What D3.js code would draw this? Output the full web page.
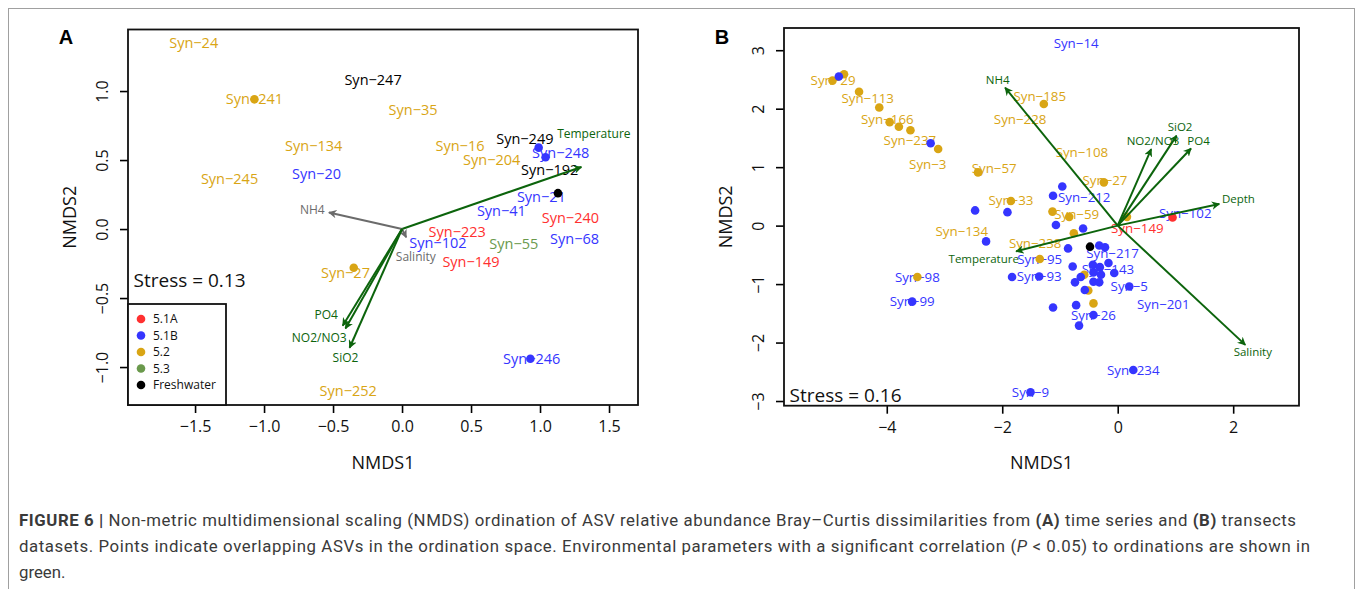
<!DOCTYPE html>
<html>
<head>
<meta charset="utf-8">
<script src="https://cdn.jsdelivr.net/npm/d3@7"></script>
<style>
  body { margin: 0; background: #fff; }
  text { font-family: "Open Sans", sans-serif; }
</style>
</head>
<body>
<svg id="fig" width="1357" height="589"></svg>
<script>
  // group names and their colours
  const groups = ["5.1A", "5.1B", "5.2", "5.3", "Freshwater"];
  const groupColors = ["#ff3030", "#3535ff", "#d9a514", "#6a994c", "#000000"];

  // panel A (time series) : label, NMDS1, NMDS2, group
  const labelsA = [
    ["Syn−24", -1.51, 1.35, "5.2"],
    ["Syn−247", -0.21, 1.08, "Freshwater"],
    ["Syn−241", -1.07, 0.94, "5.2"],
    ["Syn−35", 0.08, 0.86, "5.2"],
    ["Syn−134", -0.64, 0.60, "5.2"],
    ["Syn−16", 0.42, 0.60, "5.2"],
    ["Syn−249", 0.89, 0.65, "Freshwater"],
    ["Syn−204", 0.65, 0.50, "5.2"],
    ["Syn−248", 1.15, 0.55, "5.1B"],
    ["Syn−20", -0.62, 0.40, "5.1B"],
    ["Syn−245", -1.25, 0.36, "5.2"],
    ["Syn−192", 1.07, 0.43, "Freshwater"],
    ["Syn−21", 1.01, 0.23, "5.1B"],
    ["Syn−41", 0.72, 0.13, "5.1B"],
    ["Syn−240", 1.22, 0.08, "5.1A"],
    ["Syn−223", 0.40, -0.02, "5.1A"],
    ["Syn−55", 0.81, -0.11, "5.3"],
    ["Syn−68", 1.25, -0.07, "5.1B"],
    ["Syn−102", 0.26, -0.10, "5.1B"],
    ["Syn−149", 0.50, -0.24, "5.1A"],
    ["Syn−27", -0.41, -0.32, "5.2"],
    ["Syn−246", 0.94, -0.94, "5.1B"],
    ["Syn−252", -0.39, -1.17, "5.2"]
  ];
  // overlapping ASVs drawn as dots : NMDS1, NMDS2, group
  const pointsA = [
    [-1.07, 0.94, "5.2"],
    [0.99, 0.59, "5.1B"],
    [1.04, 0.52, "5.1B"],
    [1.13, 0.26, "Freshwater"],
    [-0.35, -0.28, "5.2"],
    [0.93, -0.94, "5.1B"]
  ];
  // fitted environmental vectors : name, tip x, tip y, label x, label y
  const arrowsA = [
    ["Temperature", 1.30, 0.45, 1.39, 0.69],
    ["NH4", -0.53, 0.12, -0.65, 0.14],
    ["Salinity", 0.03, -0.06, 0.10, -0.20],
    ["PO4", -0.43, -0.70, -0.55, -0.62],
    ["NO2/NO3", -0.41, -0.72, -0.60, -0.79],
    ["SiO2", -0.38, -0.86, -0.41, -0.93]
  ];
  const significantA = ["Temperature", "PO4", "NO2/NO3", "SiO2"];

  // panel B (transects)
  const labelsB = [
    ["Syn−14", -0.72, 3.12, "5.1B"],
    ["Syn−29", -4.93, 2.49, "5.2"],
    ["Syn−113", -4.33, 2.17, "5.2"],
    ["Syn−166", -3.99, 1.81, "5.2"],
    ["Syn−237", -3.60, 1.45, "5.2"],
    ["Syn−3", -3.29, 1.05, "5.2"],
    ["Syn−185", -1.35, 2.21, "5.2"],
    ["Syn−228", -1.69, 1.82, "5.2"],
    ["Syn−108", -0.62, 1.25, "5.2"],
    ["Syn−57", -2.14, 0.98, "5.2"],
    ["Syn−27", -0.22, 0.77, "5.2"],
    ["Syn−33", -1.85, 0.43, "5.2"],
    ["Syn−212", -0.58, 0.48, "5.1B"],
    ["Syn−59", -0.71, 0.19, "5.2"],
    ["Syn−134", -2.70, -0.09, "5.2"],
    ["Syn−238", -1.43, -0.30, "5.2"],
    ["Syn−102", 1.17, 0.21, "5.1B"],
    ["Syn−149", 0.34, -0.04, "5.1A"],
    ["Syn−217", -0.09, -0.47, "5.1B"],
    ["Syn−95", -1.35, -0.57, "5.1B"],
    ["Syn−93", -1.36, -0.87, "5.1B"],
    ["Syn−143", -0.17, -0.74, "5.1B"],
    ["Syn−98", -3.47, -0.88, "5.1B"],
    ["Syn−99", -3.56, -1.30, "5.1B"],
    ["Syn−5", 0.20, -1.04, "5.1B"],
    ["Syn−201", 0.79, -1.34, "5.1B"],
    ["Syn−26", -0.42, -1.53, "5.1B"],
    ["Syn−234", 0.27, -2.47, "5.1B"],
    ["Syn−9", -1.51, -2.85, "5.1B"]
  ];
  const pointsB = [
    [-4.94, 2.48, "5.2"], [-4.74, 2.59, "5.2"], [-4.48, 2.29, "5.2"], [-4.13, 2.02, "5.2"],
    [-3.95, 1.77, "5.2"], [-3.79, 1.69, "5.2"], [-3.59, 1.63, "5.2"], [-3.11, 1.31, "5.2"],
    [-1.28, 2.08, "5.2"], [-2.42, 0.91, "5.2"], [-1.85, 0.42, "5.2"], [-0.24, 0.74, "5.2"],
    [-1.13, 0.24, "5.2"], [-0.84, 0.15, "5.2"], [-0.76, -0.13, "5.2"], [0.16, 0.15, "5.2"],
    [-3.47, -0.88, "5.2"], [-1.35, -0.57, "5.2"], [-0.58, -0.84, "5.2"], [-0.51, -1.11, "5.2"],
    [-0.42, -1.33, "5.2"],
    [-4.83, 2.55, "5.1B"], [-3.24, 1.41, "5.1B"], [-2.47, 0.26, "5.1B"], [-1.91, 0.23, "5.1B"],
    [-0.96, 0.67, "5.1B"], [-1.12, 0.51, "5.1B"], [-1.07, 0.01, "5.1B"], [-0.60, -0.05, "5.1B"],
    [-2.28, -0.27, "5.1B"], [-0.86, -0.39, "5.1B"], [-0.32, -0.34, "5.1B"], [-0.22, -0.37, "5.1B"],
    [-3.56, -1.30, "5.1B"], [-1.36, -0.87, "5.1B"], [-1.83, -0.88, "5.1B"], [-0.78, -0.70, "5.1B"],
    [-0.64, -0.88, "5.1B"], [-0.74, -0.97, "5.1B"], [-0.57, -1.10, "5.1B"], [-1.12, -1.40, "5.1B"],
    [-0.72, -1.36, "5.1B"], [-0.42, -1.53, "5.1B"], [-0.67, -1.71, "5.1B"], [-0.16, -0.64, "5.1B"],
    [-0.43, -0.67, "5.1B"], [-0.31, -0.71, "5.1B"], [-0.06, -0.81, "5.1B"], [-0.42, -0.80, "5.1B"],
    [-0.29, -0.84, "5.1B"], [-0.42, -0.96, "5.1B"], [-0.32, -0.97, "5.1B"], [0.20, -1.04, "5.1B"],
    [0.27, -2.47, "5.1B"], [-1.51, -2.85, "5.1B"],
    [0.95, 0.14, "5.1A"],
    [-0.48, -0.36, "Freshwater"]
  ];
  const arrowsB = [
    ["NH4", -1.95, 2.36, -2.08, 2.49],
    ["NO2/NO3", 0.58, 1.31, 0.61, 1.45],
    ["SiO2", 1.02, 1.54, 1.08, 1.68],
    ["PO4", 1.27, 1.32, 1.40, 1.45],
    ["Depth", 1.76, 0.37, 2.09, 0.46],
    ["Temperature", -1.76, -0.44, -2.32, -0.57],
    ["Salinity", 2.21, -2.04, 2.34, -2.16]
  ];

  const ticksAx = [-1.5, -1.0, -0.5, 0.0, 0.5, 1.0, 1.5];
  const ticksAy = [-1.0, -0.5, 0.0, 0.5, 1.0];
  const ticksBx = [-4, -2, 0, 2];
  const ticksBy = [-3, -2, -1, 0, 1, 2, 3];

  const captionLines = [
    [["FIGURE 6 | ", "b"], ["Non-metric multidimensional scaling (NMDS) ordination of ASV relative abundance Bray–Curtis dissimilarities from ", ""], ["(A)", "b"], [" time series and ", ""], ["(B)", "b"], [" transects", ""]],
    [["datasets. Points indicate overlapping ASVs in the ordination space. Environmental parameters with a significant correlation (", ""], ["P", "i"], [" < 0.05) to ordinations are shown in", ""]],
    [["green.", ""]]
  ];

  const color = d3.scaleOrdinal().domain(groups).range(groupColors);
  const arrowGreen = "#0c640c";
  const arrowGrey = "#6b6b6b";

  const svg = d3.select("#fig");

  svg.append("rect")
    .attr("x", 8.5).attr("y", 8.5)
    .attr("width", 1346).attr("height", 600)
    .attr("fill", "none").attr("stroke", "#a0a0a0").attr("stroke-width", 1);

  // arrow heads
  const defs = svg.append("defs");
  [["headGreen", arrowGreen], ["headGrey", arrowGrey]].forEach(function(h) {
    defs.append("marker")
      .attr("id", h[0])
      .attr("viewBox", "0 0 10 10")
      .attr("refX", 9).attr("refY", 5)
      .attr("markerWidth", 4.2).attr("markerHeight", 4.2)
      .attr("markerUnits", "strokeWidth")
      .attr("orient", "auto")
      .append("path")
      .attr("d", "M0,0 L10,5 L0,10 L3,5 Z")
      .attr("fill", h[1]);
  });

  function drawPanel(opt) {
    const x = d3.scaleLinear().domain(opt.xDomain).range([opt.left, opt.right]);
    const y = d3.scaleLinear().domain(opt.yDomain).range([opt.bottom, opt.top]);
    const g = svg.append("g");

    // x axis
    const xAxis = g.append("g")
      .attr("transform", `translate(0,${opt.bottom})`)
      .call(d3.axisBottom(x).tickValues(opt.xTicks).tickFormat(opt.fmt).tickSize(8));
    xAxis.select(".domain").remove();
    xAxis.selectAll("line").attr("stroke", "#000").attr("stroke-width", 1.6);
    xAxis.selectAll("text")
      .attr("y", 27).attr("dy", 0)
      .attr("font-size", 16).attr("fill", "#111")
      .style("font-family", "'Open Sans', sans-serif");

    // y axis, labels parallel to the axis like base R
    const yAxis = g.append("g")
      .attr("transform", `translate(${opt.left},0)`)
      .call(d3.axisLeft(y).tickValues(opt.yTicks).tickFormat(opt.fmt).tickSize(8));
    yAxis.select(".domain").remove();
    yAxis.selectAll("line").attr("stroke", "#000").attr("stroke-width", 1.6);
    yAxis.selectAll("text")
      .attr("transform", "rotate(-90)")
      .attr("x", 0).attr("y", -20).attr("dy", 0)
      .attr("text-anchor", "middle")
      .attr("font-size", 16).attr("fill", "#111")
      .style("font-family", "'Open Sans', sans-serif");

    // axis titles
    g.append("text")
      .attr("x", (opt.left + opt.right) / 2).attr("y", 469)
      .attr("text-anchor", "middle").attr("font-size", 18).attr("fill", "#111")
      .text("NMDS1");
    g.append("text")
      .attr("transform", `translate(${opt.left - 52},${(opt.top + opt.bottom) / 2}) rotate(-90)`)
      .attr("text-anchor", "middle").attr("font-size", 18).attr("fill", "#111")
      .text("NMDS2");

    // panel letter
    g.append("text")
      .attr("x", opt.letterX).attr("y", 44)
      .attr("text-anchor", "middle").attr("font-size", 20).attr("font-weight", "bold")
      .style("font-family", "'Liberation Sans', Arial, sans-serif")
      .text(opt.letter);

    // ASV labels
    g.selectAll(".lab")
      .data(opt.labels)
      .enter()
      .append("text")
      .attr("class", "lab")
      .attr("x", d => x(d[1]))
      .attr("y", d => y(d[2]))
      .attr("dy", "0.35em")
      .attr("text-anchor", "middle")
      .attr("font-size", opt.labelSize)
      .attr("fill", d => color(d[3]))
      .text(d => d[0]);

    // overlapping ASVs
    g.selectAll(".pt")
      .data(opt.points)
      .enter()
      .append("circle")
      .attr("class", "pt")
      .attr("cx", d => x(d[0]))
      .attr("cy", d => y(d[1]))
      .attr("r", 4.3)
      .attr("fill", d => color(d[2]));

    // environmental vectors
    opt.arrows.forEach(function(a) {
      const sig = opt.significant.indexOf(a[0]) >= 0;
      g.append("line")
        .attr("x1", x(0)).attr("y1", y(0))
        .attr("x2", x(a[1])).attr("y2", y(a[2]))
        .attr("stroke", sig ? arrowGreen : arrowGrey)
        .attr("stroke-width", 2)
        .attr("marker-end", sig ? "url(#headGreen)" : "url(#headGrey)");
      g.append("text")
        .attr("x", x(a[3])).attr("y", y(a[4]))
        .attr("dy", "0.35em")
        .attr("text-anchor", "middle")
        .attr("font-size", opt.arrowSize)
        .attr("fill", sig ? arrowGreen : arrowGrey)
        .text(a[0]);
    });

    // stress
    g.append("text")
      .attr("x", opt.left + 5.5).attr("y", opt.stressY)
      .attr("font-size", 19).attr("fill", "#111")
      .text(opt.stress);

    // box
    g.append("rect")
      .attr("x", opt.left).attr("y", opt.top)
      .attr("width", opt.right - opt.left).attr("height", opt.bottom - opt.top)
      .attr("fill", "none").attr("stroke", "#111").attr("stroke-width", 1.8);

    return { x: x, y: y, g: g };
  }

  const panelA = drawPanel({
    xDomain: [-1.986, 1.71], yDomain: [-1.275, 1.446],
    left: 128, right: 638, top: 29.5, bottom: 405,
    xTicks: ticksAx, yTicks: ticksAy, fmt: d3.format(".1f"),
    letter: "A", letterX: 66,
    labels: labelsA, points: pointsA, arrows: arrowsA, significant: significantA,
    labelSize: 14.5, arrowSize: 12,
    stress: "Stress = 0.13", stressY: 287
  });

  drawPanel({
    xDomain: [-5.78, 3.14], yDomain: [-3.08, 3.38],
    left: 784, right: 1299, top: 28, bottom: 405.7,
    xTicks: ticksBx, yTicks: ticksBy, fmt: d3.format("d"),
    letter: "B", letterX: 722,
    labels: labelsB, points: pointsB, arrows: arrowsB,
    significant: arrowsB.map(a => a[0]),
    labelSize: 13.3, arrowSize: 11.5,
    stress: "Stress = 0.16", stressY: 402
  });

  // legend of panel A
  const legend = panelA.g.append("g");
  legend.append("rect")
    .attr("x", 128).attr("y", 304)
    .attr("width", 98).attr("height", 101)
    .attr("fill", "#fff").attr("stroke", "#111").attr("stroke-width", 1.8);
  const rowY = d3.scalePoint().domain(groups).range([319, 385]);
  legend.selectAll("circle")
    .data(groups)
    .enter()
    .append("circle")
    .attr("cx", 141)
    .attr("cy", d => rowY(d))
    .attr("r", 4.3)
    .attr("fill", d => color(d));
  legend.selectAll("text")
    .data(groups)
    .enter()
    .append("text")
    .attr("x", 153)
    .attr("y", d => rowY(d))
    .attr("dy", "0.35em")
    .attr("font-size", 12)
    .attr("fill", "#111")
    .text(d => d);

  // caption
  const capWidths = [1277, 1291, null];
  captionLines.forEach(function(line, i) {
    const t = svg.append("text")
      .attr("x", 19).attr("y", 526 + i * 26)
      .attr("font-size", 16.8)
      .attr("fill", "#3a3a3a")
      .style("font-family", "Roboto, 'Liberation Sans', sans-serif");
    line.forEach(function(part) {
      t.append("tspan")
        .attr("font-weight", part[1] === "b" ? "bold" : null)
        .attr("font-style", part[1] === "i" ? "italic" : null)
        .text(part[0]);
    });
    if (capWidths[i]) {
      t.attr("textLength", capWidths[i]).attr("lengthAdjust", "spacing");
    }
  });
</script>
</body>
</html>
